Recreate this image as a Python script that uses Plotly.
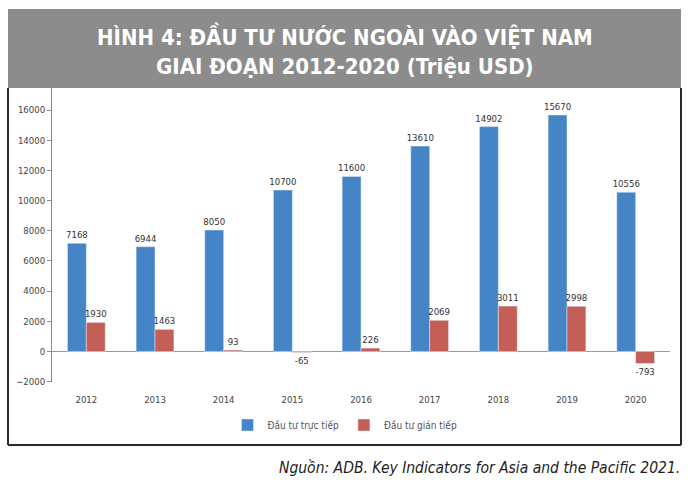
import plotly.graph_objects as go

years = ["2012", "2013", "2014", "2015", "2016", "2017", "2018", "2019", "2020"]
fdi = [7168, 6944, 8050, 10700, 11600, 13610, 14902, 15670, 10556]
fpi = [1930, 1463, 93, -65, 226, 2069, 3011, 2998, -793]
fdi_name = "Đầu tư trực tiếp"
fpi_name = "Đầu tư gián tiếp"
y_ticks = [-2000, 0, 2000, 4000, 6000, 8000, 10000, 12000, 14000, 16000]

W, H = 700, 486
L, R, T, B = 52, 30, 88, 104
PW, PH = W - L - R, H - T - B


def px(x):
    return (x - L) / PW


def py(y):
    return (H - B - y) / PH


blue = "#4585c5"
red = "#c45f58"
fontfam = "Liberation Sans Narrow, DejaVu Sans Condensed, Arial Narrow, sans-serif"
lblfont = dict(size=9.5, color="#333", family="DejaVu Sans Condensed, sans-serif")

fig = go.Figure()
fig.add_trace(go.Bar(x=years, y=fdi, name=fdi_name, marker_color=blue,
                     text=[str(v) for v in fdi], textposition="outside", constraintext="none",
                     textfont=lblfont, cliponaxis=False))
fig.add_trace(go.Bar(x=years, y=fpi, name=fpi_name, marker_color=red,
                     text=[str(v) for v in fpi], textposition="outside", constraintext="none",
                     textfont=lblfont, cliponaxis=False))

shapes = [
    dict(type="rect", xref="paper", yref="paper", x0=px(8), x1=px(681), y0=py(88), y1=py(9),
         fillcolor="#8c8c8c", line=dict(width=0), layer="below"),
    dict(type="line", xref="paper", yref="paper", x0=px(8), x1=px(8), y0=py(88), y1=py(445),
         line=dict(color="#2a2a2a", width=2)),
    dict(type="line", xref="paper", yref="paper", x0=px(681), x1=px(681), y0=py(88), y1=py(445),
         line=dict(color="#2a2a2a", width=2)),
    dict(type="line", xref="paper", yref="paper", x0=px(8), x1=px(681), y0=py(445), y1=py(445),
         line=dict(color="#2a2a2a", width=2)),
]

annotations = [
    dict(xref="paper", yref="paper", x=px(345), y=py(50), xanchor="center", yanchor="middle",
         text="<b>HÌNH 4: ĐẦU TƯ NƯỚC NGOÀI VÀO VIỆT NAM<br>GIAI ĐOẠN 2012-2020 (Triệu USD)</b>",
         showarrow=False, font=dict(family=fontfam, size=22, color="white"), align="center"),
    dict(xref="paper", yref="paper", x=px(682), y=py(468), xanchor="right", yanchor="middle",
         text="<i>Nguồn: ADB. Key Indicators for Asia and the Pacific 2021.</i>",
         showarrow=False, font=dict(family=fontfam, size=15.5, color="#222")),
]

fig.update_layout(
    width=W, height=H,
    margin=dict(l=L, r=R, t=T, b=B, pad=0),
    paper_bgcolor="white", plot_bgcolor="white",
    barmode="group", bargap=0.45, bargroupgap=0,
    font=dict(family="DejaVu Sans Condensed, sans-serif", size=9, color="#444"),
    showlegend=True,
    legend=dict(orientation="h", x=px(345), y=py(425), xanchor="center", yanchor="middle",
                font=dict(size=10, color="#555"), bgcolor="rgba(0,0,0,0)",
                itemwidth=30, tracegroupgap=0),
    shapes=shapes, annotations=annotations,
)
fig.update_xaxes(showgrid=False, showline=False, ticks="", tickfont=dict(size=9.5, color="#444"),
                 ticklabelstandoff=10)
fig.update_yaxes(range=[-2020, 17460], tickvals=y_ticks, tickformat="d", showgrid=False, showline=True,
                 linecolor="#8a8a8a", linewidth=1, ticks="outside", ticklen=4, tickcolor="#8a8a8a",
                 zeroline=True, zerolinecolor="#9a9a9a", zerolinewidth=1,
                 tickfont=dict(size=9.5, color="#444"))

fig.write_html("out.html")
